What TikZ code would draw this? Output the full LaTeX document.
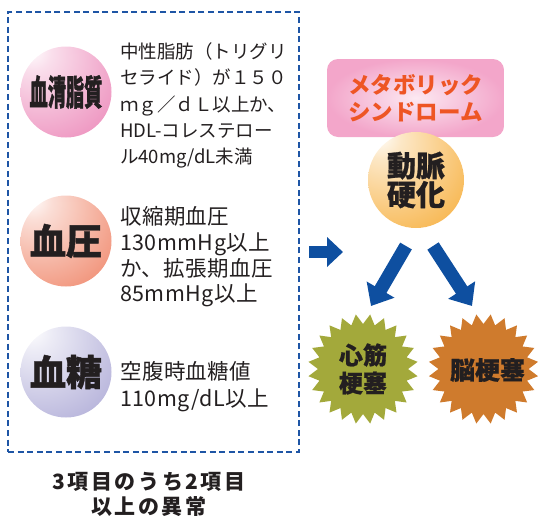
\documentclass[tikz,border=0pt]{standalone}
\usepackage{fontspec}
\setmainfont{Noto Sans CJK JP}
\usetikzlibrary{shapes.geometric,arrows.meta}

\definecolor{dashblue}{HTML}{1E55A5}
\definecolor{arrowblue}{HTML}{0E4FA0}
\definecolor{txtdark}{HTML}{231F20}
\definecolor{ballpink}{HTML}{EA7DB2}
\definecolor{ballsalmon}{HTML}{EE7B5C}
\definecolor{ballpurple}{HTML}{A19DD0}
\definecolor{ballorange}{HTML}{F5A21E}
\definecolor{metabofill}{HTML}{F3A6CA}
\definecolor{metabotext}{HTML}{EE5524}
\definecolor{stargreen}{HTML}{A3A93B}
\definecolor{starorange}{HTML}{CF7B2D}

\pgfdeclareradialshading{shpink}{\pgfpoint{-20bp}{24bp}}{color(0bp)=(white); color(10bp)=(ballpink!25!white); color(50bp)=(ballpink!90!white); color(80bp)=(ballpink); color(100bp)=(ballpink)}
\pgfdeclareradialshading{shsalmon}{\pgfpoint{-20bp}{24bp}}{color(0bp)=(white); color(10bp)=(ballsalmon!25!white); color(50bp)=(ballsalmon!90!white); color(80bp)=(ballsalmon); color(100bp)=(ballsalmon)}
\pgfdeclareradialshading{shpurple}{\pgfpoint{-20bp}{24bp}}{color(0bp)=(white); color(10bp)=(ballpurple!20!white); color(50bp)=(ballpurple!85!white); color(80bp)=(ballpurple); color(100bp)=(ballpurple)}
\pgfdeclareradialshading{shorange}{\pgfpoint{-20bp}{24bp}}{color(0bp)=(white); color(10bp)=(ballorange!25!white); color(50bp)=(ballorange!85!white); color(80bp)=(ballorange); color(100bp)=(ballorange)}

\tikzset{
  ball/.style={circle, inner sep=0pt, minimum size=91pt, text=txtdark, font=\bfseries},
  desc/.style={anchor=west, align=left, inner sep=0pt, text=txtdark},
  burst/.style={star, star points=24, star point ratio=1.22, minimum size=110pt, inner sep=0pt,
    shape border rotate=7.5},
  bursttext/.style={text=txtdark, align=center, inner sep=0pt},
  fatarrow/.style={draw=arrowblue, fill=arrowblue},
  dashbox/.style={draw=dashblue, line width=2.2pt, dash pattern=on 6pt off 3.6pt, inner sep=0pt}
}

\begin{document}
\begin{tikzpicture}[x=1pt, y=-1pt]
\useasboundingbox (0,0) rectangle (538,517);

% dashed frame
\node[dashbox, minimum width=291pt, minimum height=440pt] (frame) at (153.5,232) {};

% balls
\node[ball, shading=shpink] (lipid) at (66,92) {\fontsize{35}{35}\selectfont\addfontfeature{FakeBold=1.5}\scalebox{0.52}[1]{血清脂質}};
\node[ball, shading=shsalmon] (bp) at (66,241) {\fontsize{36}{36}\selectfont\addfontfeature{FakeBold=1.2}血圧};
\node[ball, shading=shpurple] (glu) at (66,372) {\fontsize{36}{36}\selectfont\addfontfeature{FakeBold=1.2}血糖};

% descriptions
\node[desc, font=\fontsize{18.5}{26.2}\selectfont] (lipidtxt) at (120,105.5)
  {中性脂肪（トリグリ\\セライド）が１５０\\ｍｇ／ｄＬ以上か、\\HDL-コレステロー\\ル40mg/dL未満};
\node[desc, font=\fontsize{21.5}{25.7}\selectfont\addfontfeature{LetterSpace=2}] (bptxt) at (120,257)
  {収縮期血圧\\130mmHg以上\\か、拡張期血圧\\85mmHg以上};
\node[desc, font=\fontsize{21.5}{27}\selectfont\addfontfeature{LetterSpace=2}] (glutxt) at (120,386.5)
  {空腹時血糖値\\110mg/dL以上};

% caption
\node[align=center, text=txtdark, inner sep=0pt,
  font=\fontsize{21}{25}\selectfont\bfseries\addfontfeature{LetterSpace=12}] (caption) at (149,494.5)
  {3項目のうち2項目\\以上の異常};

% metabolic syndrome box
\node[rounded corners=11pt, inner sep=0pt, minimum width=177pt, minimum height=78pt,
  inner color=metabofill!25!white, outer color=metabofill, text=metabotext, align=center,
  font=\fontsize{22.5}{27}\selectfont\bfseries] (metabo) at (415.5,98) {メタボリック\\シンドローム};

% atherosclerosis ball
\node[ball, shading=shorange, minimum size=96pt, align=center,
  font=\fontsize{29}{29}\selectfont\bfseries\addfontfeature{FakeBold=0.8}] (athero) at (416,180) {動脈\\硬化};

% bursts
\node[burst, fill=stargreen] (mi) at (363,369) {};
\node[bursttext, font=\fontsize{24}{28}\selectfont\bfseries\addfontfeature{FakeBold=0.6}] (mitxt) at (mi.center) {心筋\\梗塞};
\node[burst, fill=starorange] (stroke) at (483.5,369) {};
\node[bursttext, font=\fontsize{25}{25}\selectfont\bfseries\addfontfeature{FakeBold=0.6}] (stroketxt) at (487.5,370) {脳梗塞};

% arrows
\coordinate (ra1) at (309,252);
\coordinate (ra2) at (343,252);
\coordinate (la1) at (406,246);
\coordinate (la2) at (371,306);
\coordinate (rb1) at (433,246);
\coordinate (rb2) at (472,306);
\draw[fatarrow, line width=12.5pt, -{Triangle[width=29pt,length=16pt]}] (ra1) -- (ra2);
\draw[fatarrow, line width=13.5pt, -{Triangle[width=31pt,length=19pt]}] (la1) -- (la2);
\draw[fatarrow, line width=13.5pt, -{Triangle[width=31pt,length=19pt]}] (rb1) -- (rb2);
\end{tikzpicture}
\end{document}
